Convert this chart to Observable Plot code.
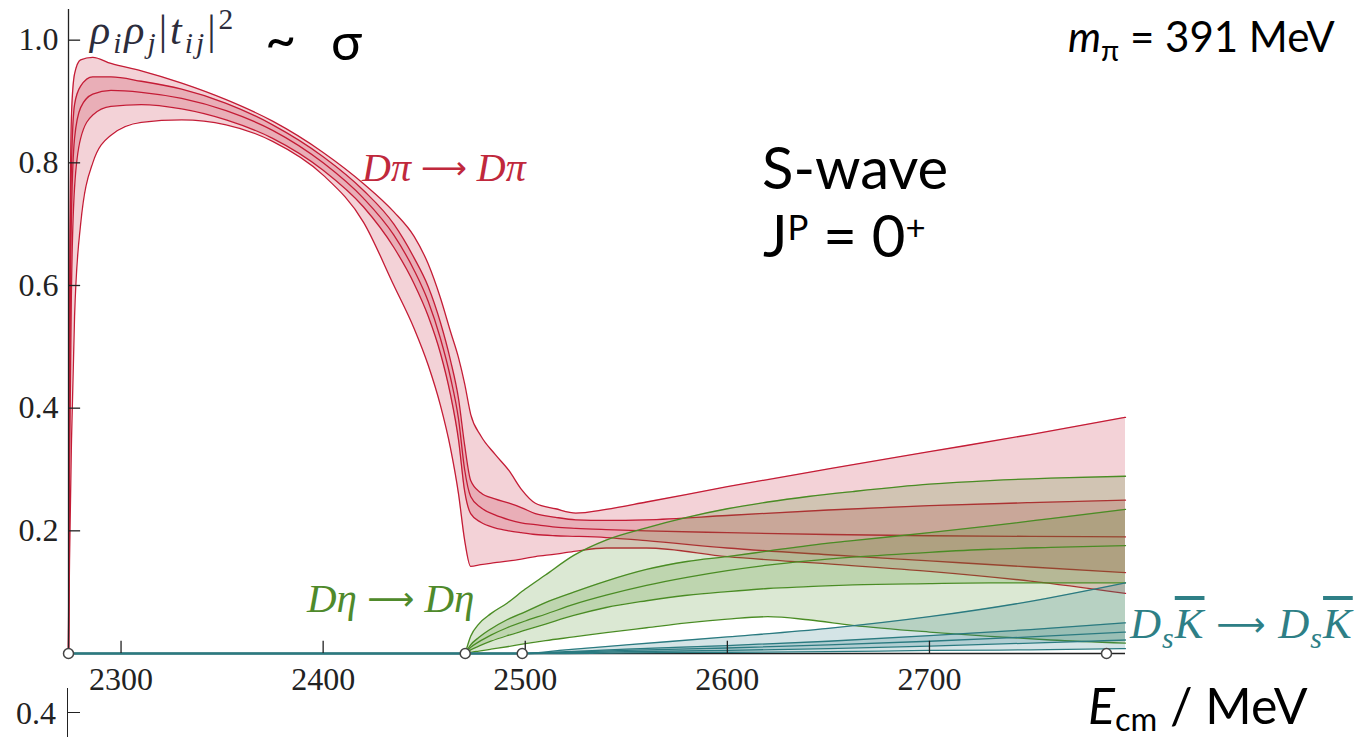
<!DOCTYPE html>
<html><head><meta charset="utf-8">
<script src="https://cdn.jsdelivr.net/npm/d3@7"></script>
<script src="https://cdn.jsdelivr.net/npm/@observablehq/plot@0.6"></script>
<style>
html,body{margin:0;padding:0;background:#fff}
body{width:1359px;height:737px;overflow:hidden;position:relative;font-family:Lato,"Open Sans",sans-serif}
#chart{position:absolute;left:0;top:0}
#chart svg text{font-family:"Liberation Serif","DejaVu Serif",serif !important;font-size:32px !important;fill:#222}
.ann{position:absolute;white-space:nowrap;line-height:1}
.math{font-family:"Liberation Serif","DejaVu Serif",serif;font-style:italic}
.sub{font-size:0.7em;position:relative;top:0.32em}
.sup{font-size:0.7em;position:relative;top:-0.5em}
.up{font-style:normal}
.arr{font-style:normal;font-family:"DejaVu Sans",sans-serif;font-size:0.8em;position:relative;top:-0.05em}
</style></head><body>
<div id="chart"></div>
<script>
// ---- data ----
const xTicks = [2300, 2400, 2500, 2600, 2700];
const yTicks = [0.2, 0.4, 0.6, 0.8, 1.0];
const thresholds = [2274, 2470.3, 2498.5, 2787.6];

// D pi -> D pi
const dpiE   = [2274, 2274.5, 2275.5, 2277, 2280, 2286, 2295, 2310, 2330, 2352, 2375, 2400, 2420, 2435, 2445, 2452, 2458, 2463, 2467, 2470, 2473, 2478, 2485, 2492, 2498, 2505, 2515, 2525, 2540, 2560, 2600, 2650, 2700, 2750, 2797];
const dpiOuterHi = [0, 0.55, 0.88, 0.945, 0.968, 0.972, 0.962, 0.950, 0.930, 0.903, 0.868, 0.817, 0.766, 0.720, 0.680, 0.635, 0.580, 0.525, 0.482, 0.440, 0.390, 0.355, 0.325, 0.298, 0.268, 0.245, 0.236, 0.229, 0.235, 0.247, 0.272, 0.301, 0.329, 0.357, 0.385];
const dpiInnerHi = [0, 0.48, 0.80, 0.895, 0.925, 0.940, 0.940, 0.933, 0.920, 0.897, 0.862, 0.810, 0.755, 0.700, 0.645, 0.598, 0.540, 0.478, 0.415, 0.340, 0.282, 0.262, 0.252, 0.245, 0.238, 0.228, 0.222, 0.218, 0.217, 0.218, 0.225, 0.234, 0.241, 0.246, 0.250];
const dpiCentral = [0, 0.40, 0.72, 0.84, 0.89, 0.912, 0.918, 0.915, 0.905, 0.885, 0.853, 0.800, 0.742, 0.682, 0.625, 0.574, 0.514, 0.450, 0.382, 0.300, 0.256, 0.238, 0.226, 0.218, 0.213, 0.210, 0.206, 0.204, 0.202, 0.200, 0.197, 0.194, 0.192, 0.191, 0.190];
const dpiInnerLo = [0, 0.30, 0.60, 0.76, 0.84, 0.878, 0.892, 0.895, 0.888, 0.870, 0.840, 0.788, 0.728, 0.662, 0.603, 0.550, 0.490, 0.422, 0.348, 0.265, 0.228, 0.214, 0.205, 0.200, 0.197, 0.194, 0.192, 0.191, 0.189, 0.184, 0.172, 0.161, 0.151, 0.141, 0.132];
const dpiOuterLo = [0, 0.15, 0.35, 0.55, 0.70, 0.80, 0.845, 0.866, 0.870, 0.862, 0.835, 0.780, 0.703, 0.600, 0.530, 0.470, 0.405, 0.335, 0.260, 0.185, 0.142, 0.145, 0.148, 0.151, 0.154, 0.158, 0.162, 0.167, 0.172, 0.172, 0.158, 0.146, 0.134, 0.118, 0.098];

// D eta -> D eta
const detaE  = [2470.3, 2473, 2477, 2483, 2491, 2500, 2510, 2524, 2540, 2560, 2580, 2600, 2620, 2640, 2662, 2700, 2730, 2760, 2797];
const detaOuterHi = [0, 0.028, 0.048, 0.065, 0.082, 0.105, 0.128, 0.160, 0.185, 0.205, 0.222, 0.236, 0.247, 0.256, 0.264, 0.276, 0.282, 0.286, 0.289];
const detaInnerHi = [0, 0.014, 0.026, 0.040, 0.055, 0.068, 0.083, 0.100, 0.118, 0.137, 0.150, 0.158, 0.167, 0.176, 0.184, 0.197, 0.208, 0.220, 0.235];
const detaCentral = [0, 0.010, 0.019, 0.030, 0.042, 0.053, 0.064, 0.080, 0.095, 0.111, 0.124, 0.135, 0.144, 0.151, 0.157, 0.165, 0.170, 0.173, 0.176];
const detaInnerLo = [0, 0.006, 0.012, 0.020, 0.029, 0.038, 0.048, 0.062, 0.075, 0.086, 0.095, 0.101, 0.106, 0.109, 0.112, 0.114, 0.115, 0.115, 0.115];
const detaOuterLo = [0, 0.002, 0.004, 0.007, 0.011, 0.016, 0.021, 0.027, 0.034, 0.042, 0.050, 0.056, 0.060, 0.055, 0.046, 0.035, 0.028, 0.022, 0.017];

// Ds Kbar -> Ds Kbar
const dskE   = [2274, 2498.5, 2520, 2550, 2600, 2650, 2700, 2750, 2797];
const dskOuterHi = [0, 0, 0.006, 0.014, 0.027, 0.041, 0.060, 0.085, 0.115];
const dskInnerHi = [0, 0, 0.003, 0.007, 0.013, 0.020, 0.029, 0.039, 0.050];
const dskCentral = [0, 0, 0.002, 0.005, 0.009, 0.014, 0.020, 0.027, 0.035];
const dskInnerLo = [0, 0, 0.001, 0.003, 0.005, 0.008, 0.012, 0.017, 0.022];
const dskOuterLo = [0, 0, 0.000, 0.001, 0.002, 0.003, 0.005, 0.006, 0.008];

const RED = "#c41c36", GREEN = "#4a8c24", TEAL = "#2a7a80";

function rows(E, ol, il, c, iu, ou) {
  return E.map((e, i) => ({E: e, ol: ol[i], il: il[i], c: c[i], iu: iu[i], ou: ou[i]}));
}
const dpiRows  = rows(dpiE, dpiOuterLo, dpiInnerLo, dpiCentral, dpiInnerHi, dpiOuterHi);
const detaRows = rows(detaE, detaOuterLo, detaInnerLo, detaCentral, detaInnerHi, detaOuterHi);
const dskRows  = rows(dskE, dskOuterLo, dskInnerLo, dskCentral, dskInnerHi, dskOuterHi);

function band(data, color) {
  const o = {x: "E", curve: "monotone-x"};
  return [
    Plot.areaY(data, {...o, y1: "ol", y2: "ou", fill: color, fillOpacity: 0.2}),
    Plot.areaY(data, {...o, y1: "il", y2: "iu", fill: color, fillOpacity: 0.2}),
    ...["ol", "il", "c", "iu", "ou"].map(k => Plot.lineY(data, {...o, y: k, stroke: color, strokeWidth: 1.3}))
  ];
}

const chart = Plot.plot({
  width: 1359, height: 737,
  marginLeft: 68, marginRight: 234, marginTop: 9, marginBottom: 84,
  x: {domain: [2274, 2797]},
  y: {domain: [0, 1.05]},
  style: {background: "transparent", overflow: "visible"},
  marks: [
    Plot.ruleY([0], {x1: 2274, x2: 2797, stroke: "#222", strokeWidth: 1.5}),
    ...band(dpiRows, RED),
    ...band(detaRows, GREEN),
    ...band(dskRows, TEAL),
    Plot.ruleX([2274], {y1: 0, y2: 1.05, stroke: "#222", strokeWidth: 1.3}),
    Plot.ruleY(yTicks, {y: d => d, x1: 2274, x2: 2280, stroke: "#222", strokeWidth: 1.3}),
    Plot.ruleX(xTicks, {x: d => d, y1: 0, y2: 0.02, stroke: "#222", strokeWidth: 1.3}),
    Plot.axisX({ticks: xTicks, tickSize: 0, tickPadding: 14, label: null, tickFormat: d3.format("d")}),
    Plot.axisY({ticks: yTicks, tickSize: 0, tickPadding: 10, label: null, tickFormat: d3.format(".1f")}),
    Plot.dot(thresholds, {x: d => d, y: 0, r: 5, fill: "white", stroke: "#444", strokeWidth: 1.5})
  ]
});
document.getElementById("chart").appendChild(chart);
</script>

<div class="ann math" style="left:90px;top:9px;font-size:42px;color:#2c2c3c;letter-spacing:3px">ρ<span class="sub">i</span>ρ<span class="sub">j</span><span class="up">|</span>t<span class="sub">ij</span><span class="up">|</span><span class="sup up">2</span></div>
<div class="ann" style="left:265px;top:12px;font-size:54px;color:#000">~</div>
<div class="ann" style="left:331px;top:14px;font-size:52px;color:#000">σ</div>
<div class="ann" style="left:1068px;top:15px;font-size:42px;color:#000"><i>m</i><span class="sub">π</span> = 391 MeV</div>
<div class="ann" style="left:762px;top:138px;font-size:58px;color:#000">S-wave</div>
<div class="ann" style="left:763px;top:206px;font-size:58px;color:#000">J<span class="sup" style="font-size:0.6em">P</span> = 0<span class="sup" style="font-size:0.6em">+</span></div>
<div class="ann math" style="left:362px;top:148px;font-size:40px;color:#c0283c">Dπ <span class="arr">⟶</span> Dπ</div>
<div class="ann math" style="left:307px;top:578px;font-size:41px;color:#4f8a2b">Dη <span class="arr">⟶</span> Dη</div>
<div class="ann math" style="left:1130px;top:602px;font-size:43px;color:#2e7f86;letter-spacing:1px">D<span class="sub">s</span><span style="text-decoration:overline">K</span> <span class="arr">⟶</span> D<span class="sub">s</span><span style="text-decoration:overline">K</span></div>
<div class="ann" style="left:1088px;top:680px;font-size:50px;color:#000"><i>E</i><span class="sub" style="font-size:0.65em;top:0.2em">cm</span> / MeV</div>
<div class="ann math up" style="left:16px;top:697px;font-size:32px;color:#222">0.4</div>
<div style="position:absolute;left:67px;top:688px;width:1.3px;height:49px;background:#222"></div>
<div style="position:absolute;left:68px;top:712px;width:12px;height:1.3px;background:#222"></div>
</body></html>
